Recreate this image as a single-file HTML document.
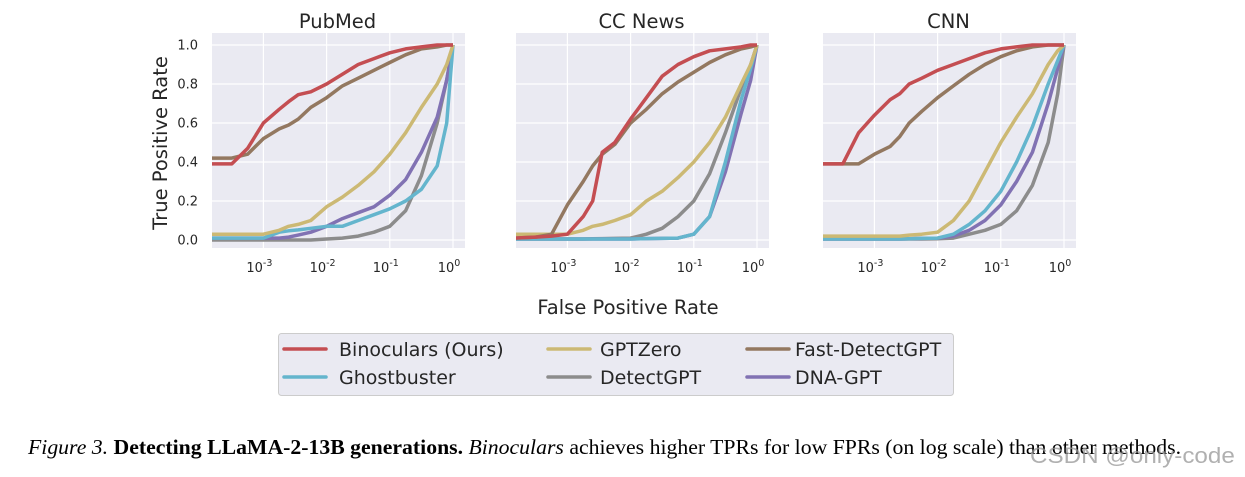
<!DOCTYPE html>
<html><head><meta charset="utf-8"><style>
body{margin:0;background:#fff;width:1245px;height:477px;overflow:hidden;position:relative}
svg{position:absolute;left:0;top:0}
.cap{position:absolute;left:28px;top:435px;font-family:"Liberation Serif",serif;font-size:21px;white-space:nowrap;color:#000;transform-origin:0 0;transform:scaleX(1.035)}
.wm{position:absolute;left:1030px;top:443px;font-family:"Liberation Sans",sans-serif;font-size:22px;color:rgba(150,150,150,0.75);transform-origin:0 0;transform:scaleX(1.1);white-space:nowrap}
</style></head><body>
<svg id="fig" width="1245" height="477"></svg>
<div class="cap"><i>Figure 3.</i> <b>Detecting LLaMA-2-13B generations.</b> <i>Binoculars</i> achieves higher TPRs for low FPRs (on log scale) than other methods.</div>
<div class="wm">CSDN @only-code</div>
<script>
const logFpr=[-3.85,-3.5,-3.25,-3,-2.75,-2.6,-2.45,-2.25,-2,-1.75,-1.5,-1.25,-1,-0.75,-0.5,-0.25,-0.1,0];
const panelTitles=["PubMed","CC News","CNN"];
const seriesNames=["Binoculars (Ours)","Ghostbuster","GPTZero","DetectGPT","Fast-DetectGPT","DNA-GPT"];
const seriesColors=["#C44E52","#64B5CD","#CCB974","#8C8C8C","#937860","#8172B3"];
const yTicks=[0,0.2,0.4,0.6,0.8,1.0];
const xTicks=[-3,-2,-1,0];
// PubMed
const pubBinoculars=[0.39,0.39,0.47,0.6,0.67,0.71,0.745,0.76,0.8,0.85,0.9,0.93,0.96,0.98,0.99,1,1,1];
const pubGhostbuster=[0.01,0.01,0.01,0.01,0.04,0.047,0.052,0.06,0.07,0.07,0.1,0.13,0.16,0.2,0.26,0.38,0.6,1];
const pubGPTZero=[0.03,0.03,0.03,0.03,0.05,0.07,0.08,0.1,0.17,0.22,0.28,0.35,0.44,0.55,0.68,0.8,0.9,1];
const pubDetectGPT=[0,0,0,0,0,0,0,0,0.005,0.01,0.02,0.04,0.07,0.15,0.33,0.6,0.82,1];
const pubFast=[0.42,0.42,0.44,0.52,0.57,0.59,0.62,0.68,0.73,0.79,0.83,0.87,0.91,0.95,0.98,0.99,1,1];
const pubDNA=[0.01,0.01,0.01,0.01,0.01,0.015,0.025,0.04,0.07,0.11,0.14,0.17,0.23,0.31,0.45,0.63,0.82,1];
// CC News
const ccBinoculars=[0.01,0.015,0.02,0.03,0.12,0.2,0.45,0.5,0.62,0.73,0.84,0.9,0.94,0.97,0.98,0.99,1,1];
const ccGhostbuster=[0.005,0.005,0.005,0.005,0.005,0.005,0.005,0.005,0.005,0.007,0.008,0.01,0.03,0.12,0.4,0.72,0.88,1];
const ccGPTZero=[0.03,0.03,0.03,0.03,0.05,0.07,0.08,0.1,0.13,0.2,0.25,0.32,0.4,0.5,0.63,0.8,0.9,1];
const ccDetectGPT=[0.005,0.005,0.005,0.005,0.005,0.006,0.007,0.008,0.01,0.03,0.06,0.12,0.2,0.34,0.55,0.78,0.9,1];
const ccFast=[0.01,0.015,0.03,0.18,0.3,0.38,0.44,0.49,0.6,0.67,0.75,0.81,0.86,0.91,0.95,0.98,0.99,1];
const ccDNA=[0.005,0.005,0.005,0.005,0.005,0.005,0.005,0.005,0.005,0.007,0.008,0.01,0.03,0.12,0.35,0.65,0.82,1];
// CNN
const cnnBinoculars=[0.39,0.39,0.55,0.64,0.72,0.75,0.8,0.83,0.87,0.9,0.93,0.96,0.98,0.99,1,1,1,1];
const cnnGhostbuster=[0.005,0.005,0.005,0.005,0.005,0.005,0.006,0.008,0.01,0.03,0.08,0.15,0.25,0.4,0.58,0.8,0.92,1];
const cnnGPTZero=[0.02,0.02,0.02,0.02,0.02,0.02,0.025,0.03,0.04,0.1,0.2,0.35,0.5,0.63,0.75,0.9,0.97,1];
const cnnDetectGPT=[0.005,0.005,0.005,0.005,0.005,0.005,0.005,0.005,0.006,0.01,0.03,0.05,0.08,0.15,0.28,0.5,0.75,1];
const cnnFast=[0.39,0.39,0.39,0.44,0.48,0.53,0.6,0.66,0.73,0.79,0.85,0.9,0.94,0.97,0.99,1,1,1];
const cnnDNA=[0.005,0.005,0.005,0.005,0.005,0.005,0.006,0.008,0.01,0.02,0.05,0.1,0.18,0.3,0.45,0.7,0.88,1];
const panelSeries=[[pubBinoculars,pubGhostbuster,pubGPTZero,pubDetectGPT,pubFast,pubDNA],[ccBinoculars,ccGhostbuster,ccGPTZero,ccDetectGPT,ccFast,ccDNA],[cnnBinoculars,cnnGhostbuster,cnnGPTZero,cnnDetectGPT,cnnFast,cnnDNA]];
const drawOrder=[3,5,1,2,4,0];

const NS="http://www.w3.org/2000/svg";
const svg=document.getElementById("fig");
function mk(tag,attrs,parent,text){const e=document.createElementNS(NS,tag);for(const k in attrs)e.setAttribute(k,attrs[k]);if(text!==undefined)e.textContent=text;(parent||svg).appendChild(e);return e;}
const F='"DejaVu Sans","Liberation Sans",sans-serif';
const panelLeft=[212,516,823];const pw=253,plotTop=33,plotBottom=248;
const decade=63.2;
function yScale(v){return 240-v*195;}

panelLeft.forEach((L,pi)=>{
  const g=mk("g",{});
  
  
  const x0=L+241;
  const xScale=v=>x0+v*decade;
  const bg=mk("rect",{x:L,y:plotTop,width:pw,height:plotBottom-plotTop,fill:"#EAEAF2"},g);
  
  
  yTicks.forEach(t=>{const y=yScale(t);
    const gl=mk("line",{x1:L,x2:L+pw,y1:y,y2:y,stroke:"#fff","stroke-width":1.2},g);
    
    
    if(pi===0){const tl=mk("text",{x:L-14,y:y+4.5,"text-anchor":"end","font-family":F,"font-size":13,fill:"#262626"},g,t.toFixed(1));
      
      }
  });
  xTicks.forEach(t=>{const x=xScale(t);
    const gl=mk("line",{x1:x,x2:x,y1:plotTop,y2:plotBottom,stroke:"#fff","stroke-width":1.2},g);
    
    
    const tl=mk("text",{x:x-4,y:272,"text-anchor":"middle","font-family":F,"font-size":13,fill:"#262626"},g);
    
    
    mk("tspan",{},tl,"10");
    mk("tspan",{dy:-6,"font-size":9.5},tl,String(t));
  });
  const clip=mk("clipPath",{id:"c"+pi},g);mk("rect",{x:L,y:plotTop,width:pw,height:plotBottom-plotTop},clip);
  drawOrder.forEach(si=>{
    const vals=panelSeries[pi][si];
    const d=vals.map((v,i)=>(i?"L":"M")+xScale(logFpr[i]).toFixed(1)+","+yScale(v).toFixed(1)).join(" ");
    const p=mk("path",{d:d,fill:"none",stroke:seriesColors[si],"stroke-width":3.5,"stroke-linejoin":"round","clip-path":"url(#c"+pi+")"},g);
    
    
  });
  const tt=mk("text",{x:L+pw/2-1,y:28,"text-anchor":"middle","font-family":F,"font-size":19.5,fill:"#262626"},g,panelTitles[pi]);
  
  
});
const yt=mk("text",{x:0,y:0,transform:"translate(167,143) rotate(-90)","text-anchor":"middle","font-family":F,"font-size":19.5,fill:"#262626"},svg,"True Positive Rate");


const xt=mk("text",{x:628,y:314,"text-anchor":"middle","font-family":F,"font-size":19.5,fill:"#262626"},svg,"False Positive Rate");


const lg=mk("g",{});


mk("rect",{x:278.5,y:333.5,width:675,height:62,rx:3,fill:"#EAEAF2",stroke:"#cccccc"},lg);
const colLine=[284,548,747],colText=[339,600,795],rowY=[349,377];
const legendPos=[[0,0],[0,1],[1,0],[1,1],[2,0],[2,1]];
seriesNames.forEach((n,si)=>{const [c,r]=legendPos[si];
  const e=mk("g",{},lg);
  
  
  mk("line",{x1:colLine[c],x2:colLine[c]+42,y1:rowY[r],y2:rowY[r],stroke:seriesColors[si],"stroke-width":3.5,"stroke-linecap":"round"},e);
  mk("text",{x:colText[c],y:rowY[r]+7,"font-family":F,"font-size":19,fill:"#262626"},e,n);
});
</script>
</body></html>
